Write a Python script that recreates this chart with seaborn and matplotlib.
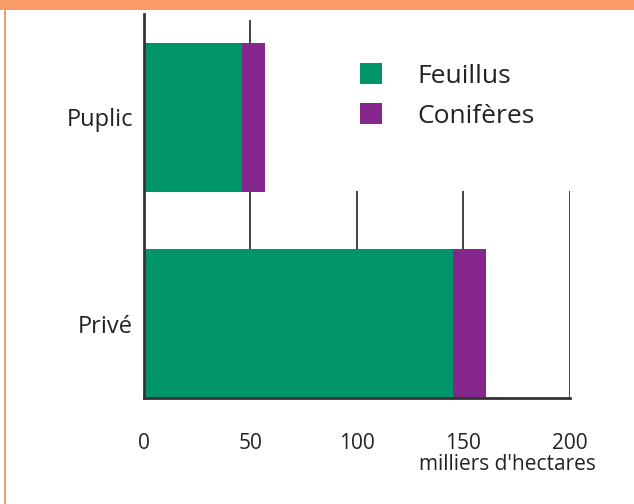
import matplotlib
matplotlib.use("Agg")
import matplotlib.pyplot as plt
from matplotlib.patches import Patch, Rectangle
import seaborn as sns

# data (milliers d'hectares)
categories = ["Puplic", "Privé"]
feuillus = [46, 145]
coniferes = [10.8, 15.5]
series_names = ["Feuillus", "Conifères"]
x_ticks = [0, 50, 100, 150, 200]
x_label = "milliers d'hectares"

green = "#009469"
purple = "#86278E"
orange = "#F99B66"

sns.set_style("white")
plt.rcParams["font.family"] = ["Open Sans", "DejaVu Sans"]

totals = [f + c for f, c in zip(feuillus, coniferes)]

fig = plt.figure(figsize=(6.34, 5.04), dpi=100)
ax = fig.add_axes([0.227, 0.21, 0.672, 0.762])

# stacked bars: total (purple) first, then feuillus (green) on top
sns.barplot(x=totals, y=categories, orient="h", color=purple, width=0.72,
            saturation=1, linewidth=0, edgecolor="none", ax=ax, zorder=2)
sns.barplot(x=feuillus, y=categories, orient="h", color=green, width=0.72,
            saturation=1, linewidth=0, edgecolor="none", ax=ax, zorder=3)

ax.set_xlim(0, 200)
ax.set_ylim(1.36, -0.5)

# grid lines (partly hidden by the legend area)
ax.vlines([50], -0.47, 1.36, color="#333333", lw=1.3, zorder=1)
ax.vlines([100, 150, 200], 0.355, 1.36, color="#333333", lw=1.3, zorder=1)

for s in ["top", "right"]:
    ax.spines[s].set_visible(False)
for s in ["left", "bottom"]:
    ax.spines[s].set_color("#333333")
    ax.spines[s].set_linewidth(2)
    ax.spines[s].set_zorder(4)

ax.set_xticks(x_ticks)
ax.set_xticklabels([str(t) for t in x_ticks], fontsize=15, color="#222222")
ax.tick_params(axis="x", length=0, pad=25)
ax.tick_params(axis="y", length=0, pad=8, labelsize=17, labelcolor="#222222")
ax.set_xlabel("")
ax.set_ylabel("")

fig.text(596 / 634, 1 - 465 / 504, x_label, ha="right", va="center",
         fontsize=15, color="#222222")

handles = [Patch(facecolor=green, edgecolor="none"),
           Patch(facecolor=purple, edgecolor="none")]
fig.legend(handles, series_names, loc="upper left",
           bbox_to_anchor=(360 / 634, 1 - 63 / 504), frameon=False,
           fontsize=19, handlelength=0.83, handleheight=0.83,
           handletextpad=1.36, labelspacing=0.55, borderpad=0,
           borderaxespad=0, labelcolor="#222222")

# orange frame: top band and left edge
fig.patches.append(Rectangle((0, 1 - 10 / 504), 1, 10 / 504, transform=fig.transFigure,
                             facecolor=orange, edgecolor="none", zorder=5))
fig.patches.append(Rectangle((4 / 634, 0), 2.5 / 634, 1, transform=fig.transFigure,
                             facecolor=orange, edgecolor="none", zorder=5))

fig.savefig("out.png", dpi=100, facecolor="white")
